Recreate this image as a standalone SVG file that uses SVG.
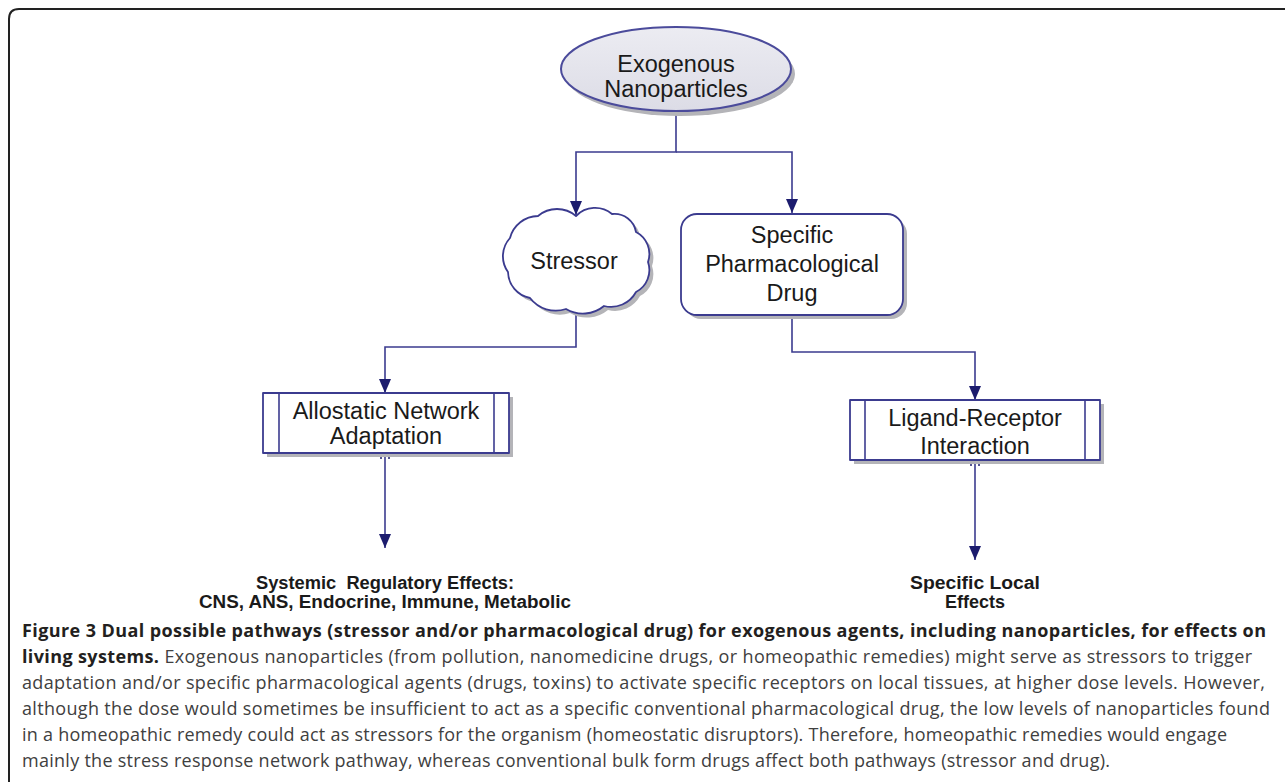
<svg xmlns="http://www.w3.org/2000/svg" width="1285" height="782" viewBox="0 0 1285 782">
<style>
.node text{font-family:"Liberation Sans",Arial,sans-serif;font-size:23.5px;fill:#1a1a1a;text-anchor:middle}
.edge{fill:none;stroke:#3b3b8f;stroke-width:1.6}
.shape{fill:#ffffff;stroke:#3b3b8f;stroke-width:1.8;stroke-linejoin:round}
.shadow{fill:#b4b4b8;stroke:none}
.lbl{font-family:"Liberation Sans",Arial,sans-serif;font-weight:bold;font-size:18px;fill:#1a1a1a;text-anchor:middle}
.cap{font-family:"Open Sans","Liberation Sans",sans-serif;font-size:18px;fill:#404040}
.capb{font-weight:bold;fill:#231f20}
.dot{fill:#1c1c6e}
</style>
<defs>
<marker id="arr" viewBox="0 0 14 12" refX="14" refY="6" markerWidth="14" markerHeight="12" markerUnits="userSpaceOnUse" orient="auto">
<path d="M0,0 L14,6 L0,12 z" fill="#1c1c6e"/>
</marker>
<linearGradient id="eg" x1="0" y1="0" x2="0" y2="1">
<stop offset="0" stop-color="#ececf2"/>
<stop offset="1" stop-color="#dcdce6"/>
</linearGradient>
<path id="cloud" d="M576,216 A26.6,26.6 0 0 1 612,214 A21.75,21.75 0 0 1 636,232 A24.7,24.7 0 0 1 648,262 A24.7,24.7 0 0 1 636,292 A28.4,28.4 0 0 1 604,306 A33.2,33.2 0 0 1 566,309 A32.4,32.4 0 0 1 530,298 A27,27 0 0 1 508,272 A27,27 0 0 1 510,238 A29.4,29.4 0 0 1 538,216 A29.3,29.3 0 0 1 576,216 z"/>
</defs>

<rect x="0" y="0" width="1285" height="782" fill="#ffffff"/>
<path d="M9,782 V19 Q9,9 19,9 H1285" fill="none" stroke="#222222" stroke-width="2"/>

<g id="connectors">
<path class="edge" d="M676,111 V152 H576 V215" marker-end="url(#arr)"/>
<path class="edge" d="M676,152 H792 V213" marker-end="url(#arr)"/>
<path class="edge" d="M576,312 V347 H385 V393" marker-end="url(#arr)"/>
<path class="edge" d="M792,315 V352 H975 V400" marker-end="url(#arr)"/>
<path class="edge" d="M385,453 V548" marker-end="url(#arr)"/>
<path class="edge" d="M975,460 V560" marker-end="url(#arr)"/>
<circle class="dot" cx="381" cy="458" r="1"/>
<circle class="dot" cx="389" cy="458" r="1"/>
<circle class="dot" cx="971" cy="465" r="1"/>
<circle class="dot" cx="979" cy="465" r="1"/>
</g>

<g id="node-nanoparticles" class="node">
<ellipse class="shadow" cx="680" cy="74" rx="115" ry="42"/>
<ellipse cx="676" cy="69" rx="115" ry="42" fill="url(#eg)" stroke="#4b4b9b" stroke-width="2"/>
<text x="676" y="72">Exogenous</text>
<text x="676" y="97">Nanoparticles</text>
</g>

<g id="node-stressor" class="node">
<use href="#cloud" class="shadow" transform="translate(4,4)"/>
<use href="#cloud" class="shape"/>
<text x="574" y="269">Stressor</text>
</g>

<g id="node-drug" class="node">
<rect class="shadow" x="685" y="218" width="222" height="101" rx="16"/>
<rect class="shape" x="681" y="214" width="222" height="101" rx="16"/>
<text x="792" y="243">Specific</text>
<text x="792" y="272">Pharmacological</text>
<text x="792" y="301">Drug</text>
</g>

<g id="node-allostatic" class="node">
<rect class="shadow" x="267" y="397" width="246" height="60"/>
<rect class="shape" x="263" y="393" width="246" height="60"/>
<line x1="279" y1="393" x2="279" y2="453" stroke="#3b3b8f" stroke-width="1.6"/>
<line x1="494" y1="393" x2="494" y2="453" stroke="#3b3b8f" stroke-width="1.6"/>
<text x="386" y="419">Allostatic Network</text>
<text x="386" y="444">Adaptation</text>
</g>

<g id="node-ligand" class="node">
<rect class="shadow" x="854" y="404" width="250" height="60"/>
<rect class="shape" x="850" y="400" width="250" height="60"/>
<line x1="865" y1="400" x2="865" y2="460" stroke="#3b3b8f" stroke-width="1.6"/>
<line x1="1085" y1="400" x2="1085" y2="460" stroke="#3b3b8f" stroke-width="1.6"/>
<text x="975" y="426">Ligand-Receptor</text>
<text x="975" y="454">Interaction</text>
</g>

<g id="label-systemic">
<text class="lbl" x="385" y="589" textLength="258" lengthAdjust="spacingAndGlyphs" xml:space="preserve">Systemic  Regulatory Effects:</text>
<text class="lbl" x="385" y="608" textLength="372" lengthAdjust="spacingAndGlyphs">CNS, ANS, Endocrine, Immune, Metabolic</text>
</g>

<g id="label-local">
<text class="lbl" x="975" y="589" textLength="130" lengthAdjust="spacingAndGlyphs">Specific Local</text>
<text class="lbl" x="975" y="608" textLength="60" lengthAdjust="spacingAndGlyphs">Effects</text>
</g>

<g id="caption" class="cap">
<text x="22" y="637" textLength="1244" class="capb">Figure 3 Dual possible pathways (stressor and/or pharmacological drug) for exogenous agents, including nanoparticles, for effects on</text>
<text x="22" y="663" textLength="1230"><tspan class="capb">living systems.</tspan> Exogenous nanoparticles (from pollution, nanomedicine drugs, or homeopathic remedies) might serve as stressors to trigger</text>
<text x="22" y="689" textLength="1243">adaptation and/or specific pharmacological agents (drugs, toxins) to activate specific receptors on local tissues, at higher dose levels. However,</text>
<text x="22" y="715" textLength="1248">although the dose would sometimes be insufficient to act as a specific conventional pharmacological drug, the low levels of nanoparticles found</text>
<text x="22" y="741" textLength="1205">in a homeopathic remedy could act as stressors for the organism (homeostatic disruptors). Therefore, homeopathic remedies would engage</text>
<text x="22" y="767" textLength="1088">mainly the stress response network pathway, whereas conventional bulk form drugs affect both pathways (stressor and drug).</text>
</g>
</svg>
